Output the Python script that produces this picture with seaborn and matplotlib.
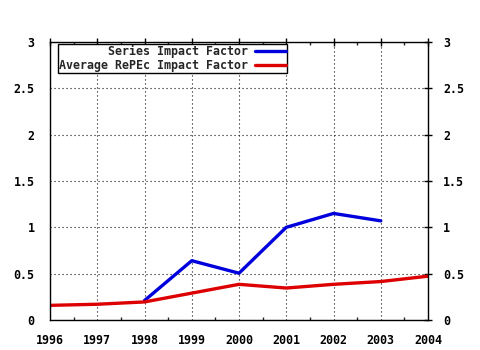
import matplotlib
matplotlib.use("Agg")
import matplotlib.pyplot as plt
import seaborn as sns
import pandas as pd
import numpy as np
from matplotlib.ticker import MultipleLocator, FixedLocator

years = [1996, 1997, 1998, 1999, 2000, 2001, 2002, 2003, 2004]
series_if = [np.nan, np.nan, 0.21, 0.64, 0.505, 1.0, 1.15, 1.07, np.nan]
avg_repec_if = [0.158, 0.17, 0.195, 0.29, 0.385, 0.345, 0.385, 0.415, 0.473]
label_series = "Series Impact Factor"
label_avg = "Average RePEc Impact Factor"
y_ticks = [0, 0.5, 1, 1.5, 2, 2.5, 3]
y_tick_labels = ["0", "0.5", "1", "1.5", "2", "2.5", "3"]

sns.set_style("white")
plt.rcParams["font.family"] = ["DejaVu Sans Mono", "DejaVu Sans"]
plt.rcParams["font.weight"] = "bold"

df = pd.DataFrame({"year": years, label_series: series_if, label_avg: avg_repec_if})

fig = plt.figure(figsize=(4.8, 3.5), dpi=100)
ax = fig.add_axes([50/480, 1-320/350, (428-50)/480, (320-42)/350])

sns.lineplot(data=df, x="year", y=label_series, ax=ax, color="#0000dd", lw=2.4, label=label_series)
sns.lineplot(data=df, x="year", y=label_avg, ax=ax, color="#dd0000", lw=2.4, label=label_avg)

ax.set_xlim(1996, 2004)
ax.set_ylim(0, 3)
ax.set_xlabel("")
ax.set_ylabel("")
ax.xaxis.set_major_locator(FixedLocator(years))
ax.xaxis.set_minor_locator(MultipleLocator(0.5))
ax.set_xticklabels([str(y) for y in years])
ax.set_yticks(y_ticks)
ax.set_yticklabels(y_tick_labels)

for s in ax.spines.values():
    s.set_color("black")
    s.set_linewidth(1.0)

ax.tick_params(axis="both", which="major", direction="inout", length=6, width=1,
               top=True, right=True, labelright=True, labelsize=8.4, colors="black")
ax.tick_params(axis="x", which="major", pad=7)
ax.tick_params(axis="y", which="major", pad=8)
ax.tick_params(axis="x", which="minor", direction="in", length=2.5, width=1, top=True, bottom=True)
for lbl in ax.get_xticklabels() + ax.get_yticklabels():
    lbl.set_fontweight("bold")

ax.grid(True, which="major", linestyle=(0, (1.0, 2.6)), color="#111111", linewidth=0.8)

leg = ax.legend(loc="upper left", bbox_to_anchor=(8/378, 1 - 2/278), markerfirst=False,
                frameon=True, fancybox=False, framealpha=1, edgecolor="black",
                fontsize=8.4, handlelength=2.6, borderpad=0.1, labelspacing=0.05,
                handletextpad=0.6, borderaxespad=0)
leg.get_frame().set_linewidth(1.0)
for t in leg.get_texts():
    t.set_fontweight("bold")

fig.savefig("out.png", dpi=100)
